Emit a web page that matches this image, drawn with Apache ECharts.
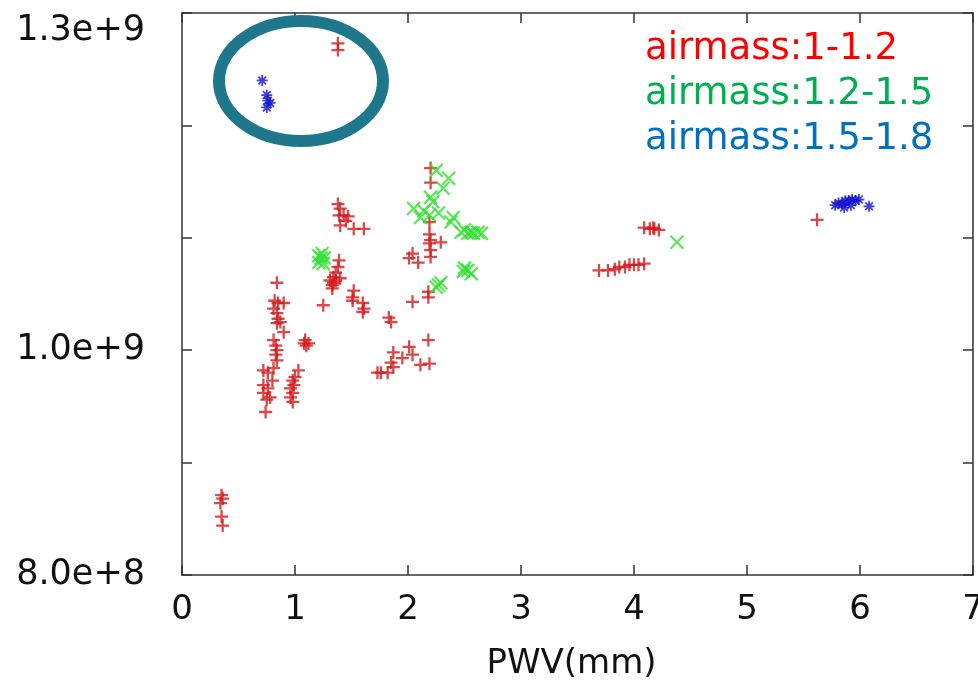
<!DOCTYPE html>
<html>
<head>
<meta charset="utf-8">
<title>PWV scatter</title>
<script src="https://cdn.jsdelivr.net/npm/echarts@6/dist/echarts.min.js"></script>
<style>
  html, body { margin: 0; padding: 0; background: #fff; }
  #chart { width: 978px; height: 682px; }
</style>
</head>
<body>
<div id="chart"></div>
<script>
// airmass 1 - 1.2  (PWV mm, value)
var redPoints = [
	[0.35, 8.71e8], [0.36, 8.68e8], [0.34, 8.64e8], [0.35, 8.52e8], [0.36, 8.44e8],
	[0.84, 10.60e8], [0.82, 10.44e8], [0.85, 10.42e8], [0.90, 10.42e8], [0.81, 10.37e8],
	[0.84, 10.33e8], [0.85, 10.28e8], [0.87, 10.25e8], [0.84, 10.24e8], [0.90, 10.16e8],
	[0.81, 10.09e8], [0.83, 10.04e8], [0.84, 10.00e8], [0.83, 9.96e8], [0.84, 9.91e8], [0.81, 9.84e8],
	[0.72, 9.82e8], [0.76, 9.80e8], [0.80, 9.73e8], [0.72, 9.69e8], [0.76, 9.66e8],
	[0.72, 9.62e8], [0.78, 9.58e8], [0.75, 9.56e8], [0.74, 9.45e8],
	[1.03, 9.82e8], [1.00, 9.76e8], [0.98, 9.73e8], [0.99, 9.69e8], [0.96, 9.66e8],
	[0.98, 9.62e8], [0.96, 9.58e8], [0.98, 9.54e8],
	[1.09, 10.09e8], [1.12, 10.06e8], [1.10, 10.04e8], [1.08, 10.06e8],
	[1.25, 10.40e8],
	[1.38, 11.30e8], [1.40, 11.26e8], [1.39, 11.20e8], [1.43, 11.20e8], [1.47, 11.19e8],
	[1.45, 11.15e8], [1.40, 11.11e8], [1.52, 11.08e8], [1.61, 11.08e8],
	[1.39, 10.80e8], [1.38, 10.74e8], [1.36, 10.69e8], [1.34, 10.65e8], [1.31, 10.62e8],
	[1.34, 10.60e8], [1.33, 10.55e8], [1.40, 10.64e8], [1.36, 10.62e8], [1.33, 10.58e8],
	[1.52, 10.53e8], [1.51, 10.47e8], [1.51, 10.44e8], [1.60, 10.42e8], [1.61, 10.37e8], [1.60, 10.34e8],
	[1.83, 10.29e8], [1.85, 10.25e8],
	[1.87, 9.98e8], [1.85, 9.89e8], [1.87, 9.85e8], [1.82, 9.80e8], [1.76, 9.80e8], [1.73, 9.80e8],
	[2.01, 10.03e8], [2.04, 9.96e8], [1.95, 9.93e8], [2.11, 9.87e8], [2.19, 9.88e8], [2.18, 10.09e8],
	[2.18, 10.52e8], [2.18, 10.47e8], [2.04, 10.43e8],
	[2.20, 11.62e8], [2.20, 11.49e8], [2.19, 11.14e8], [2.19, 11.03e8], [2.20, 10.98e8],
	[2.19, 10.95e8], [2.29, 10.96e8], [2.20, 10.89e8], [2.20, 10.83e8],
	[2.04, 10.86e8], [2.01, 10.82e8], [2.09, 10.78e8],
	[3.69, 10.71e8], [3.77, 10.71e8], [3.83, 10.72e8], [3.87, 10.74e8], [3.92, 10.74e8],
	[3.96, 10.76e8], [4.00, 10.76e8], [4.04, 10.76e8], [4.09, 10.77e8],
	[4.09, 11.09e8], [4.14, 11.08e8], [4.17, 11.09e8], [4.18, 11.08e8], [4.22, 11.07e8],
	[5.62, 11.16e8],
	[1.38, 12.73e8], [1.38, 12.67e8]
];
// airmass 1.2 - 1.5
var greenPoints = [
	[1.21, 10.84e8], [1.24, 10.86e8], [1.26, 10.82e8], [1.21, 10.78e8], [1.25, 10.77e8], [1.23, 10.82e8],
	[2.25, 11.60e8], [2.36, 11.53e8], [2.31, 11.44e8], [2.20, 11.36e8], [2.22, 11.32e8], [2.05, 11.26e8],
	[2.14, 11.24e8], [2.27, 11.22e8], [2.19, 11.20e8], [2.11, 11.18e8], [2.40, 11.18e8], [2.38, 11.14e8],
	[2.47, 11.05e8], [2.50, 11.07e8], [2.53, 11.04e8], [2.56, 11.05e8], [2.58, 11.04e8], [2.62, 11.05e8], [2.65, 11.04e8],
	[2.50, 10.73e8], [2.53, 10.71e8], [2.56, 10.68e8], [2.49, 10.70e8],
	[2.27, 10.58e8], [2.29, 10.60e8], [2.25, 10.56e8],
	[4.38, 10.96e8]
];
// airmass 1.5 - 1.8
var bluePoints = [
	[0.71, 12.40e8], [0.75, 12.27e8], [0.76, 12.22e8], [0.78, 12.20e8], [0.75, 12.16e8],
	[5.78, 11.29e8], [5.81, 11.31e8], [5.84, 11.30e8], [5.87, 11.33e8], [5.90, 11.33e8],
	[5.93, 11.34e8], [5.96, 11.33e8], [5.99, 11.34e8], [5.86, 11.27e8], [5.92, 11.29e8], [6.08, 11.28e8]
];
var legendLabels = ['airmass:1-1.2', 'airmass:1.2-1.5', 'airmass:1.5-1.8'];
var legendColors = ['#ff0000', '#00b050', '#0070c0'];
var yTickLabels = {800000000: '8.0e+8', 1000000000: '1.0e+9', 1300000000: '1.3e+9'};

var FONT = 'DejaVu Sans';
var plusPath = 'path://M0,6L12,6M6,0L6,12';
var crossPath = 'path://M0,0L12,12M12,0L0,12';
var starPath = 'path://M0,6L12,6M6,0L6,12M1.8,1.8L10.2,10.2M10.2,1.8L1.8,10.2';

var GRID = {left: 182, top: 13, right: 5, bottom: 107};
var plotW = 978 - GRID.left - GRID.right;
var plotH = 682 - GRID.top - GRID.bottom;

var chart = echarts.init(document.getElementById('chart'));

var graphics = [{
	type: 'ellipse',
	shape: {cx: 301, cy: 81, rx: 82, ry: 60},
	style: {fill: 'none', stroke: '#1f778b', lineWidth: 12},
	z: 10
}];
for (var i = 0; i < legendLabels.length; i++) {
	graphics.push({
		type: 'text',
		left: 645,
		top: 31 + i * 45,
		style: {text: legendLabels[i], fill: legendColors[i], font: '37px "' + FONT + '"'}
	});
}

var lineStyle = {color: '#333', width: 1.5};

var option = {
	animation: false,
	backgroundColor: '#fff',
	grid: {left: GRID.left, top: GRID.top, right: GRID.right, bottom: GRID.bottom, outerBoundsMode: 'none'},
	xAxis: [{
		type: 'value', min: 0, max: 7, interval: 1,
		name: 'PWV(mm)', nameLocation: 'middle', nameGap: 72,
		nameTextStyle: {fontFamily: FONT, fontSize: 34, color: '#111', padding: [0, 12, 0, 0]},
		axisLine: {lineStyle: lineStyle},
		axisTick: {show: true, inside: true, length: 10, lineStyle: lineStyle},
		axisLabel: {fontFamily: FONT, fontSize: 34, color: '#111', margin: 18},
		splitLine: {show: false}
	}, {
		// top frame: a bottom axis moved up to the top edge, ticks pointing down
		type: 'value', min: 0, max: 7, interval: 1, position: 'bottom', offset: -plotH,
		axisLine: {show: true, onZero: false, lineStyle: lineStyle},
		axisTick: {show: true, length: 10, lineStyle: lineStyle},
		axisLabel: {show: false},
		splitLine: {show: false}
	}],
	yAxis: [{
		type: 'value', min: 8e8, max: 13e8, interval: 1e8,
		axisLine: {show: true, lineStyle: lineStyle},
		axisTick: {show: true, inside: true, length: 10, lineStyle: lineStyle},
		axisLabel: {
			fontFamily: FONT, fontSize: 35, color: '#111', margin: 37,
			verticalAlignMaxLabel: 'top',
			formatter: function(v){ return yTickLabels[Math.round(v)] || ''; }
		},
		splitLine: {show: false}
	}, {
		// right frame: a left axis moved to the right edge, ticks pointing left
		type: 'value', min: 8e8, max: 13e8, interval: 1e8, position: 'left', offset: -plotW,
		axisLine: {show: true, onZero: false, lineStyle: lineStyle},
		axisTick: {show: true, length: 10, lineStyle: lineStyle},
		axisLabel: {show: false},
		splitLine: {show: false}
	}],
	graphic: graphics,
	series: [{
		name: legendLabels[0], type: 'scatter', data: redPoints,
		symbol: plusPath, symbolSize: 13,
		itemStyle: {color: 'none', borderColor: '#d21a1c', borderWidth: 2.3}
	}, {
		name: legendLabels[1], type: 'scatter', data: greenPoints,
		symbol: crossPath, symbolSize: 13,
		itemStyle: {color: 'none', borderColor: '#30e030', borderWidth: 2.2}
	}, {
		name: legendLabels[2], type: 'scatter', data: bluePoints,
		symbol: starPath, symbolSize: 11,
		itemStyle: {color: 'none', borderColor: '#1010d0', borderWidth: 1.8}
	}]
};
chart.setOption(option);
</script>
</body>
</html>
